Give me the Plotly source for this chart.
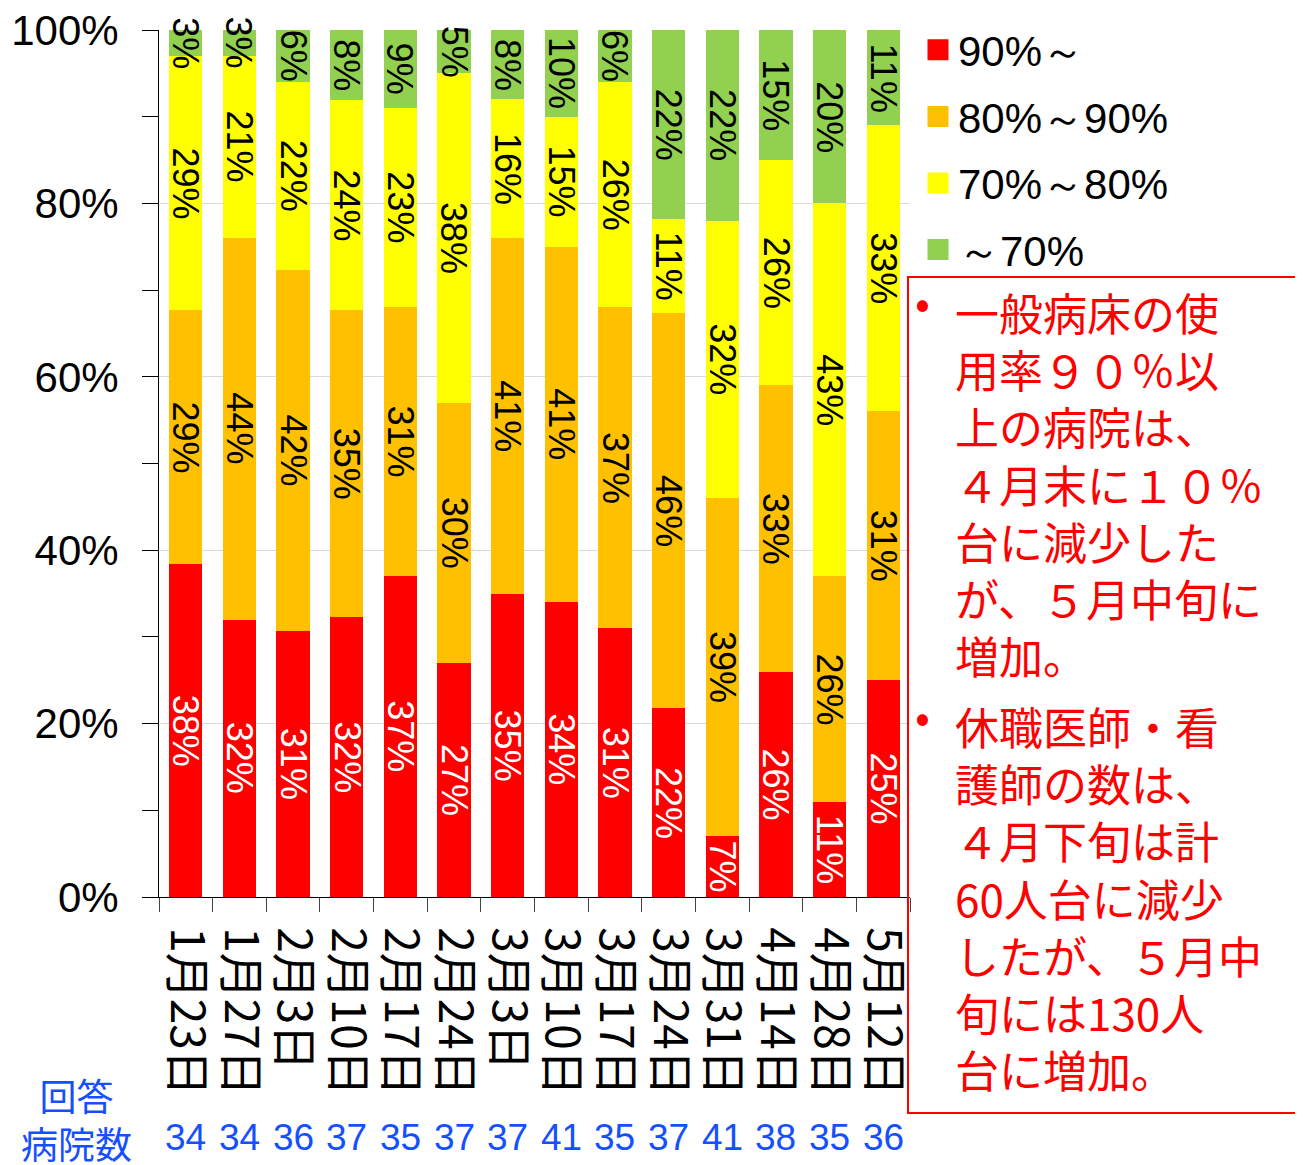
import plotly.graph_objects as go

categories = ["1月23日", "1月27日", "2月3日", "2月10日", "2月17日", "2月24日", "3月3日",
              "3月10日", "3月17日", "3月24日", "3月31日", "4月14日", "4月28日", "5月12日"]
respondents = [34, 34, 36, 37, 35, 37, 37, 41, 35, 37, 41, 38, 35, 36]

series_names = ["90%～", "80%～90%", "70%～80%", "～70%"]
s90 = [38, 32, 31, 32, 37, 27, 35, 34, 31, 22, 7, 26, 11, 25]
s80 = [29, 44, 42, 35, 31, 30, 41, 41, 37, 46, 39, 33, 26, 31]
s70 = [29, 21, 22, 24, 23, 38, 16, 15, 26, 11, 32, 26, 43, 33]
s_lt70 = [3, 3, 6, 8, 9, 5, 8, 10, 6, 22, 22, 15, 20, 11]

ytick_vals = [0, 20, 40, 60, 80, 100]
ytick_text = ["0%", "20%", "40%", "60%", "80%", "100%"]

note1 = ["一般病床の使", "用率９０％以", "上の病院は、", "４月末に１０％",
         "台に減少した", "が、５月中旬に", "増加。"]
note2 = ["休職医師・看", "護師の数は、", "４月下旬は計", "60人台に減少",
         "したが、５月中", "旬には130人", "台に増加。"]

colors = ["#FF0000", "#FFC000", "#FFFF00", "#92D050"]
text_colors = ["white", "black", "black", "black"]

SANS = "Liberation Sans, Arial, sans-serif"
JP = "Noto Sans CJK JP, sans-serif"

# page body has an 8px margin; work in screenshot pixels and convert
OFF = 8
W, H = 1303 - OFF, 1165 - OFF
PL, PR, PT, PB = 159 - OFF, 910 - OFF, 30 - OFF, 897 - OFF   # plot area in figure px
L, R, T, B = PL, W - PR, PT, H - PB
PW, PH = PR - PL, PB - PT


def px(sx):
    return (sx - OFF - PL) / PW


def py(sy):
    return (PB - (sy - OFF)) / PH


all_series = [s90, s80, s70, s_lt70]
totals = [sum(col) for col in zip(*all_series)]

fig = go.Figure()
for name, vals, c in zip(series_names, all_series, colors):
    fig.add_trace(go.Bar(
        x=categories, y=vals, name=name, marker=dict(color=c, line=dict(width=0)),
        showlegend=False, hoverinfo="skip",
    ))

# segment value labels (rotated), centred on each normalised segment
base = [0.0] * len(categories)
for vals, tc in zip(all_series, text_colors):
    for j, (cat, v) in enumerate(zip(categories, vals)):
        mid = (base[j] + v / 2) / totals[j] * 100
        base[j] += v
        fig.add_annotation(x=cat, y=mid, xref="x", yref="y", text=f"{v}%",
                           textangle=90, showarrow=False, xanchor="center", yanchor="middle",
                           font=dict(family=SANS, size=36, color=tc))

# legend entries
for name, c in zip(series_names, colors):
    fig.add_trace(go.Scatter(
        x=[None], y=[None], mode="markers", name=name, legendgroup=name,
        marker=dict(symbol="square", size=16, color=c, line=dict(color=c, width=5)),
        showlegend=True,
    ))

fig.update_layout(
    width=W, height=H,
    margin=dict(l=L, r=R, t=T, b=B, autoexpand=False),
    barmode="stack", barnorm="percent", bargap=0.38,
    plot_bgcolor="white", paper_bgcolor="white",
    legend=dict(x=px(918), y=py(16), xanchor="left", yanchor="top",
                traceorder="grouped", tracegroupgap=9,
                font=dict(family=SANS, size=42, color="black"),
                bgcolor="rgba(0,0,0,0)"),
    font=dict(family=SANS, color="black"),
)

fig.update_xaxes(
    type="category", categoryorder="array", categoryarray=categories,
    tickmode="array", tickvals=categories, ticktext=categories,
    showline=True, linecolor="black", linewidth=1,
    ticks="outside", tickson="boundaries", ticklen=14, tickcolor="#444444",
    tickangle=90, tickfont=dict(family=JP, size=46, color="black"),
    ticklabelstandoff=20, ticklabeloverflow="allow", showgrid=False,
)
fig.update_yaxes(
    range=[0, 100], tickmode="array", tickvals=ytick_vals, ticktext=ytick_text,
    showline=True, linecolor="black", linewidth=1,
    ticks="outside", ticklen=16, tickcolor="black",
    tickfont=dict(family=SANS, size=42, color="black"),
    ticklabelstandoff=15, ticklabeloverflow="allow",
    showgrid=True, gridcolor="#D9D9D9", gridwidth=1,
    minor=dict(dtick=10, ticks="outside", ticklen=16, tickcolor="black", showgrid=False),
    zeroline=False,
)

# respondent counts
for cat, n in zip(categories, respondents):
    fig.add_annotation(x=cat, xref="x", y=py(1137), yref="paper", text=str(n),
                       showarrow=False, xanchor="center", yanchor="middle",
                       font=dict(family=SANS, size=37, color="#1550FF"))
fig.add_annotation(x=px(76), y=py(1119), xref="paper", yref="paper", text="回答<br>病院数",
                   showarrow=False, xanchor="center", yanchor="middle", align="center",
                   font=dict(family=JP, size=37, color="#1550FF"))

# red note box
fig.add_shape(type="rect", xref="paper", yref="paper", x0=px(908), x1=px(1340),
              y0=py(1113), y1=py(277), line=dict(color="red", width=2),
              fillcolor="rgba(0,0,0,0)", layer="above")

# note text: one multi-line block per bullet (44px font -> ~57px line pitch)
for lines, ytop in ((note1, 278), (note2, 692)):
    fig.add_annotation(x=px(922), y=py(ytop + 22), xref="paper", yref="paper", text="•",
                       showarrow=False, xanchor="center", yanchor="middle",
                       font=dict(family=JP, size=44, color="red"))
    fig.add_annotation(x=px(953), y=py(ytop), xref="paper", yref="paper",
                       text="<br>".join(lines), align="left",
                       showarrow=False, xanchor="left", yanchor="top",
                       font=dict(family=JP, size=44, color="red"))

# top black rule
fig.add_shape(type="line", xref="paper", yref="paper", x0=px(59), x1=px(1340),
              y0=py(5), y1=py(5), line=dict(color="black", width=5))

fig.write_html("out.html")
